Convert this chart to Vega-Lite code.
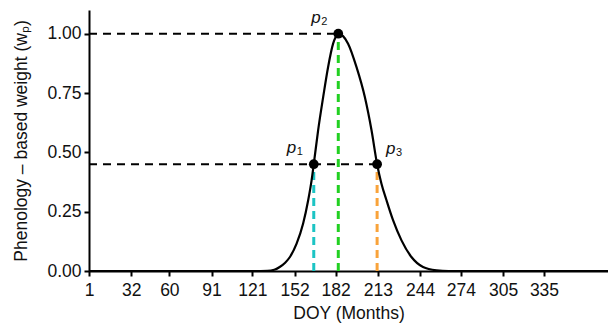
{
  "$schema": "https://vega.github.io/schema/vega-lite/v6.json",
  "width": 519,
  "height": 261,
  "autosize": "none",
  "padding": {"left": 89, "top": 10, "right": 0, "bottom": 54},
  "background": "white",
  "config": {
    "view": {"stroke": null},
    "font": "Liberation Sans",
    "axis": {
      "grid": false,
      "domainColor": "black",
      "domainWidth": 2,
      "tickColor": "black",
      "tickWidth": 2,
      "tickSize": 5,
      "labelColor": "#111111",
      "labelFontSize": 17.5,
      "labelFont": "Liberation Sans",
      "titleColor": "#111111",
      "titleFontSize": 17.5,
      "titleFont": "Liberation Sans",
      "titleFontWeight": "normal",
      "labelFlush": false,
      "labelOverlap": false
    }
  },
  "datasets": {
    "curve": [
      {"day": 1, "w": 0},
      {"day": 120, "w": 0},
      {"day": 132, "w": 0.001},
      {"day": 137, "w": 0.005},
      {"day": 141, "w": 0.017},
      {"day": 145, "w": 0.035},
      {"day": 148.5, "w": 0.059},
      {"day": 153.4, "w": 0.115},
      {"day": 158.2, "w": 0.2},
      {"day": 161.9, "w": 0.298},
      {"day": 164.4, "w": 0.382},
      {"day": 166, "w": 0.45},
      {"day": 169.2, "w": 0.593},
      {"day": 172.9, "w": 0.733},
      {"day": 176.5, "w": 0.859},
      {"day": 180.2, "w": 0.958},
      {"day": 182, "w": 0.985},
      {"day": 184, "w": 1.0},
      {"day": 187.5, "w": 0.99},
      {"day": 191.2, "w": 0.958},
      {"day": 197.4, "w": 0.859},
      {"day": 203.5, "w": 0.733},
      {"day": 208.4, "w": 0.593},
      {"day": 212.5, "w": 0.45},
      {"day": 215.7, "w": 0.368},
      {"day": 219.4, "w": 0.298},
      {"day": 224.2, "w": 0.214},
      {"day": 230.4, "w": 0.129},
      {"day": 237.7, "w": 0.059},
      {"day": 246.2, "w": 0.017},
      {"day": 256.1, "w": 0.003},
      {"day": 265, "w": 0},
      {"day": 382, "w": 0}
    ],
    "points": [
      {"name": "p1", "day": 166, "w": 0.45, "sub": "1"},
      {"name": "p2", "day": 184, "w": 1.0, "sub": "2"},
      {"name": "p3", "day": 212.5, "w": 0.45, "sub": "3"}
    ],
    "guides": [
      {"day": 184, "w": 1.0},
      {"day": 212.5, "w": 0.45}
    ]
  },
  "encoding": {
    "x": {
      "field": "day",
      "type": "quantitative",
      "scale": {"domain": [1, 382], "nice": false, "zero": false},
      "axis": {
        "values": [1, 32, 60, 91, 121, 152, 182, 213, 244, 274, 305, 335],
        "title": "DOY (Months)",
        "labelPadding": 5,
        "titlePadding": 6
      }
    },
    "y": {
      "field": "w",
      "type": "quantitative",
      "scale": {"domain": [0, 1.1], "nice": false},
      "axis": {
        "values": [0, 0.25, 0.5, 0.75, 1],
        "format": ".2f",
        "title": "Phenology – based weight (wₚ)",
        "labelPadding": 3,
        "titlePadding": 16
      }
    }
  },
  "layer": [
    {
      "data": {"name": "guides"},
      "mark": {"type": "rule", "color": "black", "strokeWidth": 2.2, "strokeDash": [8, 6]},
      "encoding": {
        "x": {"datum": 1, "type": "quantitative"},
        "x2": {"field": "day"},
        "y": {"field": "w", "type": "quantitative"}
      }
    },
    {
      "data": {"name": "points"},
      "mark": {"type": "rule", "strokeWidth": 3, "strokeDash": [8, 5]},
      "encoding": {
        "x": {"field": "day", "type": "quantitative"},
        "y": {"datum": 0, "type": "quantitative"},
        "y2": {"field": "w"},
        "color": {
          "field": "name",
          "type": "nominal",
          "scale": {"domain": ["p1", "p2", "p3"], "range": ["#1CC4C4", "#22D022", "#F9A33A"]},
          "legend": null
        }
      }
    },
    {
      "data": {"name": "curve"},
      "mark": {"type": "line", "color": "black", "strokeWidth": 2.2, "interpolate": "monotone"},
      "encoding": {}
    },
    {
      "data": {"name": "points"},
      "mark": {"type": "circle", "color": "black", "opacity": 1, "size": 95},
      "encoding": {}
    },
    {
      "data": {"name": "points"},
      "transform": [{"filter": "datum.name != 'p3'"}],
      "mark": {"type": "text", "text": "p", "fontStyle": "italic", "fontSize": 17, "align": "left", "baseline": "alphabetic", "dx": -27, "dy": -11, "color": "#111111"},
      "encoding": {}
    },
    {
      "data": {"name": "points"},
      "transform": [{"filter": "datum.name != 'p3'"}],
      "mark": {"type": "text", "fontSize": 11, "align": "left", "baseline": "alphabetic", "dx": -17, "dy": -9, "color": "#111111"},
      "encoding": {"text": {"field": "sub"}}
    },
    {
      "data": {"name": "points"},
      "transform": [{"filter": "datum.name == 'p3'"}],
      "mark": {"type": "text", "text": "p", "fontStyle": "italic", "fontSize": 17, "align": "left", "baseline": "alphabetic", "dx": 9, "dy": -10, "color": "#111111"},
      "encoding": {}
    },
    {
      "data": {"name": "points"},
      "transform": [{"filter": "datum.name == 'p3'"}],
      "mark": {"type": "text", "fontSize": 11, "align": "left", "baseline": "alphabetic", "dx": 19, "dy": -8, "color": "#111111"},
      "encoding": {"text": {"field": "sub"}}
    }
  ]
}
